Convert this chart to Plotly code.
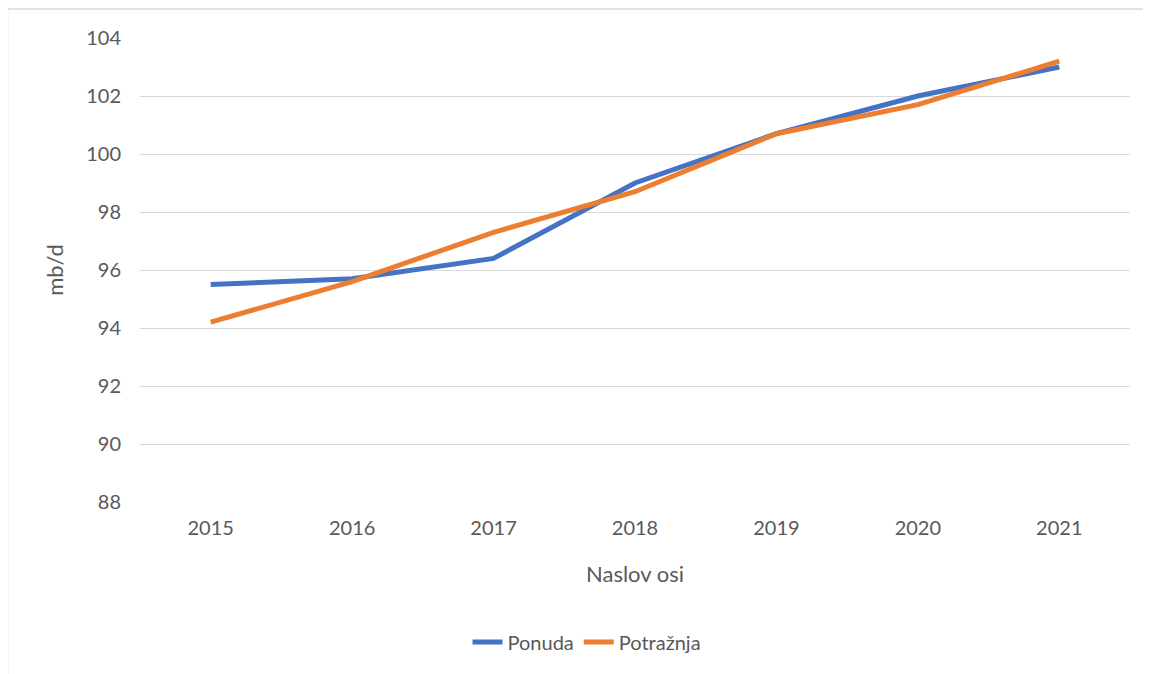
import plotly.graph_objects as go

years = ["2015", "2016", "2017", "2018", "2019", "2020", "2021"]
ponuda = [95.5, 95.7, 96.4, 99.0, 100.7, 102.0, 103.0]
potraznja = [94.2, 95.6, 97.3, 98.7, 100.7, 101.7, 103.2]
y_ticks = [88, 90, 92, 94, 96, 98, 100, 102, 104]

OFF = 8  # browser body margin
W, H = 1151 - OFF, 674 - OFF
L, R, T, B = 140 - OFF, 21, 38 - OFF, 172
pw, ph = W - L - R, H - T - B

def px(x):
    return (x - OFF - L) / pw

def py(y):
    return (H - B - (y - OFF)) / ph

font = "Lato"
grey = "#595959"

fig = go.Figure()
fig.add_trace(go.Scatter(x=years, y=ponuda, name="Ponuda", mode="lines",
                         line=dict(color="#4472C4", width=5)))
fig.add_trace(go.Scatter(x=years, y=potraznja, name="Potražnja", mode="lines",
                         line=dict(color="#ED7D31", width=5)))

fig.update_layout(
    width=W, height=H,
    margin=dict(l=L, r=R, t=T, b=B),
    paper_bgcolor="white", plot_bgcolor="white",
    font=dict(family=font, size=20, color=grey),
    legend=dict(orientation="h", x=px(587), xanchor="center", y=py(642), yanchor="middle",
                font=dict(family=font, size=20, color=grey)),
    showlegend=True,
)
fig.update_xaxes(type="category", range=[-0.5, 6.5], showgrid=False, showline=False, ticks="",
                 title=dict(text="Naslov osi", font=dict(family=font, size=22, color=grey), standoff=28),
                 tickfont=dict(family=font, size=20, color=grey), ticklabelstandoff=12)
fig.update_yaxes(range=[88, 104], tickvals=y_ticks, showgrid=True, gridcolor="#d9d9d9",
                 gridwidth=1, zeroline=False, showline=False, ticks="",
                 ticklabelstandoff=18,
                 title=dict(text="mb/d", font=dict(family=font, size=22, color=grey), standoff=16),
                 tickfont=dict(family=font, size=20, color=grey))

# chart border (left & top visible)
fig.add_shape(type="line", xref="paper", yref="paper", x0=px(7.5), x1=px(1160), y0=py(9), y1=py(9),
              line=dict(color="#d9d9d9", width=1.5))
fig.add_shape(type="line", xref="paper", yref="paper", x0=px(7.5), x1=px(7.5), y0=py(9), y1=py(680),
              line=dict(color="#d9d9d9", width=1.5))

fig.write_html("out.html")
